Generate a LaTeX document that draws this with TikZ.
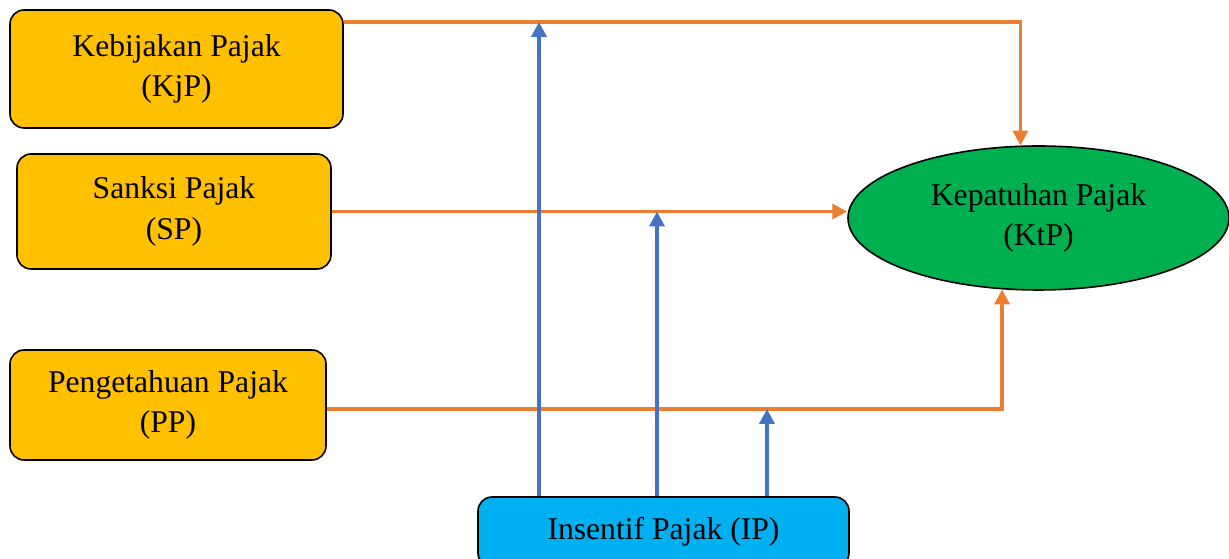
\documentclass[tikz,border=0pt]{standalone}
\usepackage{fontspec}
\setmainfont{Liberation Serif}
\usetikzlibrary{arrows.meta,shapes.geometric}

\definecolor{jingga}{HTML}{ED7D31}
\definecolor{biru}{HTML}{4472C4}
\definecolor{kuning}{HTML}{FFC000}
\definecolor{hijau}{HTML}{00B050}
\definecolor{cyan}{HTML}{00B0F0}

\begin{document}
\begin{tikzpicture}[
    kotak/.style={draw=black, line width=0.9pt, rounded corners=8pt, fill=kuning, align=center,
        font=\fontsize{18}{23}\selectfont, inner sep=0pt},
    panah/.style={-{Triangle[width=8.5pt,length=8.5pt]}, line width=2.1pt}
]
    \useasboundingbox (0,0) rectangle (24.58,11.18);

    \node[kotak, minimum width=6.66cm, minimum height=2.36cm] (KjP) at (3.53,9.8) {Kebijakan Pajak\\(KjP)};
    \node[kotak, minimum width=6.28cm, minimum height=2.3cm] (SP) at (3.48,6.95) {Sanksi Pajak\\(SP)};
    \node[kotak, minimum width=6.32cm, minimum height=2.2cm] (PP) at (3.36,3.08) {Pengetahuan Pajak\\(PP)};
    \node[kotak, fill=cyan, minimum width=7.42cm, minimum height=1.4cm] (IP) at (13.27,0.54) {Insentif Pajak (IP)};
    \node[ellipse, draw=black, line width=0.9pt, fill=hijau, align=center, inner sep=0pt,
        font=\fontsize{18}{23}\selectfont, minimum width=7.62cm, minimum height=2.88cm] (KtP) at (20.77,6.82) {Kepatuhan Pajak\\(KtP)};

    \coordinate (m1) at (10.78,10.74);
    \coordinate (m2) at (13.14,6.95);
    \coordinate (m3) at (15.34,3.0);

    % jalur variabel ke kepatuhan
    \draw[panah, jingga] (KjP.east |- m1) -- (KtP.104 |- m1) -- (KtP.104);
    \draw[panah, jingga] (SP.east) -- (KtP.west |- SP.east);
    \draw[panah, jingga] (PP.east |- m3) -- (m3 -| KtP.243) -- (KtP.243);

    % moderasi insentif
    \draw[panah, biru] (IP.north -| m1) -- (m1);
    \draw[panah, biru] (IP.north -| m2) -- (m2);
    \draw[panah, biru] (IP.north -| m3) -- (m3);
\end{tikzpicture}
\end{document}
